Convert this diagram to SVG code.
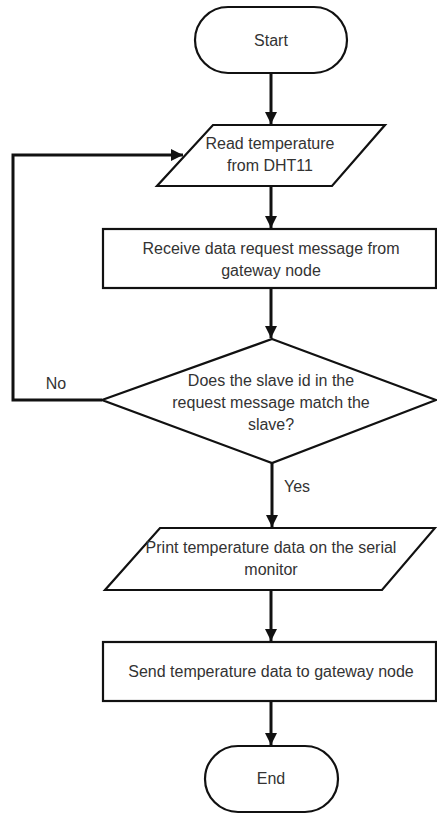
<svg xmlns="http://www.w3.org/2000/svg" width="437" height="814" viewBox="0 0 437 814">
<defs>
<marker id="ah" viewBox="0 0 10 10" refX="10" refY="5" markerWidth="4" markerHeight="4" orient="auto" markerUnits="strokeWidth">
<path d="M0,0 L10,5 L0,10 Z" fill="#111"/>
</marker>
<style>
.shape{fill:#fff;stroke:#111;stroke-width:2.2}
.t{font-family:"Liberation Sans",Arial,sans-serif;font-size:16px;fill:#333;text-anchor:middle}
.c{fill:none;stroke:#111;stroke-width:3;marker-end:url(#ah)}
</style>
</defs>
<rect width="437" height="814" fill="#fff"/>
<g id="connectors">
<line class="c" x1="271" y1="73" x2="271" y2="124"/>
<polyline class="c" points="102,400 13,400 13,155 183,155"/>
<line class="c" x1="271" y1="186" x2="271" y2="228"/>
<line class="c" x1="271" y1="288" x2="271" y2="338"/>
<line class="c" x1="272" y1="463" x2="272" y2="527"/>
<line class="c" x1="271" y1="590" x2="271" y2="641"/>
<line class="c" x1="271" y1="701" x2="271" y2="745"/>
<text class="t" x="56" y="389">No</text>
<text class="t" x="297" y="492">Yes</text>
</g>
<g id="start">
<rect class="shape" x="195" y="7" width="152" height="66" rx="33"/>
<text class="t" x="271" y="46">Start</text>
</g>
<g id="read">
<polygon class="shape" points="213,125 385,125 332,186 157,186"/>
<text class="t" x="270" y="149">Read temperature</text>
<text class="t" x="270" y="171">from DHT11</text>
</g>
<g id="receive">
<rect class="shape" x="103" y="229" width="333" height="59"/>
<text class="t" x="271" y="254">Receive data request message from</text>
<text class="t" x="271" y="276">gateway node</text>
</g>
<g id="decision">
<polygon class="shape" points="272,339 436,400 272,463 102,400"/>
<text class="t" x="271" y="386">Does the slave id in the</text>
<text class="t" x="271" y="408">request message match the</text>
<text class="t" x="271" y="430">slave?</text>
</g>
<g id="print">
<polygon class="shape" points="160,528 435,528 382,590 105,590"/>
<text class="t" x="271" y="553">Print temperature data on the serial</text>
<text class="t" x="271" y="575">monitor</text>
</g>
<g id="send">
<rect class="shape" x="103" y="642" width="333" height="59"/>
<text class="t" x="271" y="677">Send temperature data to gateway node</text>
</g>
<g id="end">
<rect class="shape" x="205" y="746" width="133" height="66" rx="33"/>
<text class="t" x="271" y="784">End</text>
</g>
</svg>
